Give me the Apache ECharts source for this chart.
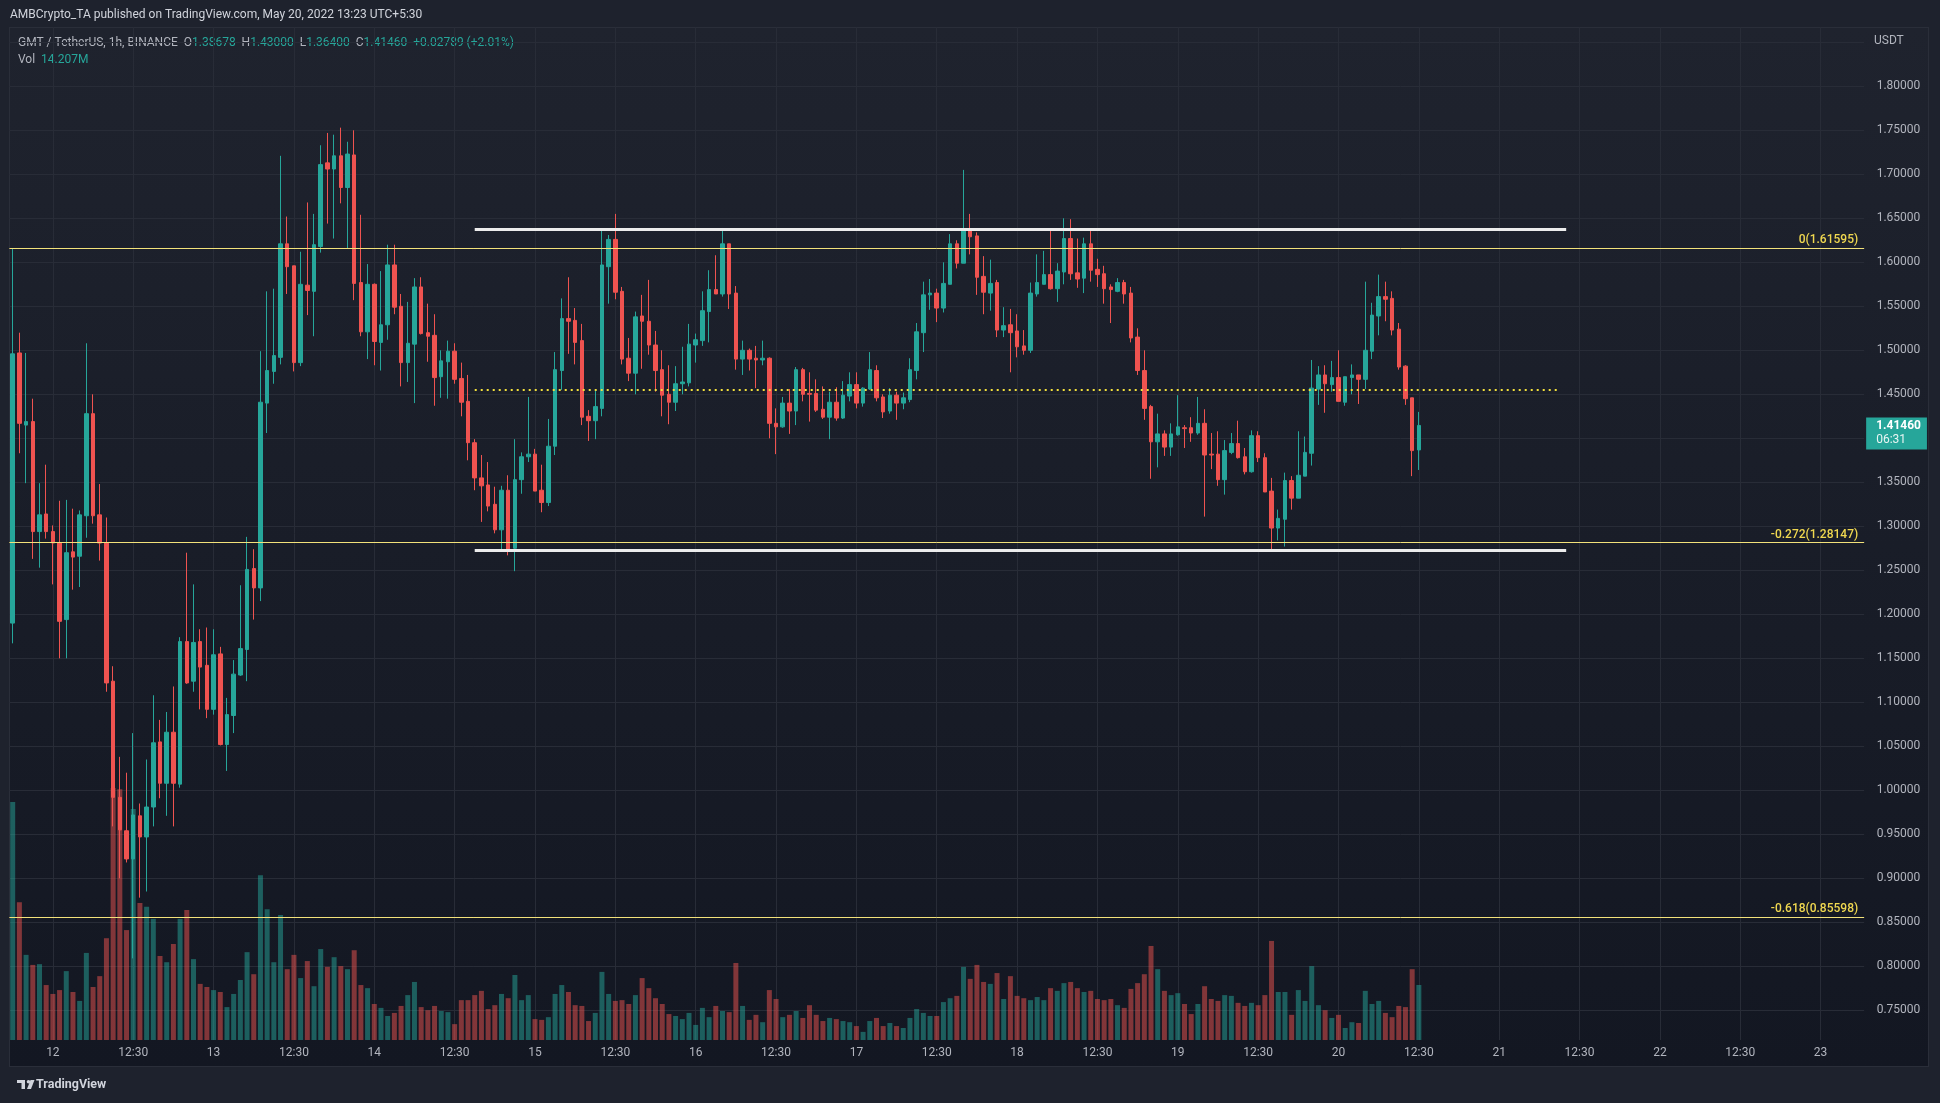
<!DOCTYPE html>
<html><head><meta charset="utf-8">
<script src="https://cdn.jsdelivr.net/npm/echarts@6/dist/echarts.min.js"></script>
<style>
html,body{margin:0;padding:0;background:#1e222d;width:1940px;height:1103px;overflow:hidden;}
#panel{position:absolute;left:9px;top:27px;width:1920px;height:1040px;background:linear-gradient(to bottom,#1f232e 0%,#131722 100%);border:1px solid #2a2e39;box-sizing:border-box;}
#c{position:absolute;left:0;top:0;width:1940px;height:1103px;}
</style></head><body><div id="panel"></div><div id="c"></div>
<script>
// ---- data (1h candles, GMT/USDT, Binance) ----
const OPEN=[1.190,1.497,1.415,1.419,1.294,1.314,1.294,1.281,1.194,1.271,
1.266,1.312,1.428,1.313,1.281,1.124,0.992,0.954,0.922,0.971,
0.947,0.981,1.055,1.008,1.066,1.007,1.169,1.124,1.169,1.142,
1.092,1.155,1.052,1.085,1.131,1.160,1.252,1.230,1.440,1.476,
1.492,1.621,1.596,1.486,1.574,1.567,1.618,1.713,1.706,1.721,
1.685,1.722,1.577,1.521,1.575,1.509,1.529,1.597,1.550,1.486,
1.507,1.572,1.520,1.517,1.470,1.487,1.499,1.468,1.442,1.395,
1.355,1.347,1.325,1.296,1.341,1.275,1.353,1.379,1.382,1.341,
1.327,1.391,1.477,1.536,1.534,1.511,1.425,1.420,1.434,1.595,
1.626,1.567,1.491,1.474,1.539,1.533,1.506,1.478,1.450,1.441,
1.462,1.463,1.506,1.511,1.544,1.569,1.564,1.621,1.565,1.490,
1.500,1.491,1.489,1.491,1.417,1.413,1.440,1.431,1.478,1.451,
1.451,1.433,1.424,1.441,1.423,1.448,1.461,1.440,1.456,1.477,
1.447,1.431,1.449,1.440,1.444,1.477,1.520,1.563,1.565,1.548,
1.575,1.621,1.599,1.638,1.630,1.584,1.565,1.577,1.523,1.529,
1.522,1.505,1.500,1.564,1.575,1.586,1.570,1.589,1.627,1.588,
1.582,1.621,1.592,1.587,1.572,1.567,1.577,1.565,1.515,1.477,
1.436,1.396,1.405,1.390,1.404,1.412,1.412,1.406,1.417,1.382,
1.382,1.353,1.384,1.394,1.379,1.362,1.403,1.378,1.340,1.298,
1.308,1.352,1.332,1.357,1.383,1.456,1.472,1.461,1.469,1.441,
1.469,1.472,1.467,1.499,1.539,1.561,1.559,1.524,1.482,1.446,
1.38678];
const HIGH=[1.616,1.520,1.497,1.445,1.349,1.370,1.301,1.329,1.330,1.320,
1.318,1.508,1.450,1.348,1.310,1.141,1.038,1.020,1.065,0.985,
1.035,1.108,1.080,1.089,1.118,1.174,1.270,1.234,1.183,1.185,
1.183,1.163,1.105,1.148,1.233,1.288,1.274,1.499,1.567,1.570,
1.721,1.652,1.596,1.612,1.668,1.655,1.733,1.747,1.745,1.753,
1.737,1.750,1.654,1.598,1.576,1.590,1.620,1.620,1.564,1.555,
1.582,1.583,1.553,1.541,1.500,1.511,1.508,1.486,1.472,1.399,
1.381,1.373,1.345,1.346,1.358,1.399,1.384,1.447,1.388,1.370,
1.422,1.498,1.559,1.583,1.548,1.530,1.432,1.455,1.637,1.631,
1.655,1.572,1.514,1.544,1.563,1.580,1.522,1.500,1.483,1.482,
1.504,1.530,1.519,1.567,1.591,1.608,1.639,1.621,1.573,1.511,
1.502,1.505,1.511,1.492,1.434,1.447,1.456,1.481,1.480,1.475,
1.467,1.459,1.453,1.458,1.465,1.475,1.475,1.458,1.498,1.483,
1.450,1.457,1.453,1.452,1.491,1.531,1.578,1.581,1.570,1.600,
1.632,1.625,1.705,1.655,1.634,1.607,1.603,1.580,1.549,1.547,
1.541,1.523,1.577,1.609,1.613,1.636,1.599,1.650,1.649,1.627,
1.628,1.637,1.604,1.596,1.575,1.582,1.580,1.572,1.525,1.500,
1.438,1.428,1.409,1.417,1.449,1.415,1.424,1.447,1.433,1.406,
1.408,1.398,1.406,1.420,1.389,1.409,1.408,1.383,1.355,1.319,
1.361,1.357,1.408,1.402,1.489,1.482,1.483,1.488,1.500,1.470,
1.484,1.472,1.578,1.554,1.586,1.578,1.567,1.531,1.483,1.446,
1.43000];
const LOW=[1.167,1.383,1.349,1.263,1.253,1.286,1.234,1.150,1.150,1.228,
1.231,1.287,1.303,1.261,1.112,0.959,0.900,0.918,0.809,0.878,
0.885,0.959,0.991,0.971,0.959,1.003,1.121,1.112,1.092,1.082,
1.086,1.051,1.022,1.065,1.130,1.124,1.194,1.215,1.406,1.462,
1.484,1.564,1.476,1.482,1.540,1.516,1.611,1.644,1.627,1.667,
1.616,1.557,1.516,1.490,1.483,1.477,1.512,1.541,1.459,1.464,
1.440,1.518,1.487,1.437,1.446,1.445,1.462,1.425,1.375,1.341,
1.305,1.317,1.292,1.273,1.267,1.249,1.337,1.373,1.340,1.316,
1.323,1.381,1.455,1.496,1.484,1.415,1.397,1.399,1.425,1.553,
1.558,1.484,1.465,1.450,1.479,1.495,1.453,1.425,1.416,1.431,
1.450,1.459,1.486,1.505,1.509,1.564,1.561,1.547,1.478,1.472,
1.477,1.457,1.483,1.400,1.382,1.412,1.405,1.415,1.442,1.419,
1.430,1.422,1.399,1.420,1.422,1.442,1.434,1.436,1.455,1.442,
1.423,1.428,1.421,1.433,1.441,1.467,1.498,1.546,1.532,1.543,
1.575,1.593,1.599,1.609,1.563,1.541,1.545,1.515,1.515,1.475,
1.492,1.495,1.497,1.561,1.575,1.569,1.555,1.575,1.580,1.571,
1.565,1.578,1.572,1.553,1.531,1.566,1.553,1.509,1.472,1.421,
1.354,1.367,1.380,1.380,1.403,1.389,1.396,1.404,1.311,1.365,
1.346,1.336,1.382,1.377,1.359,1.361,1.373,1.339,1.273,1.284,
1.277,1.319,1.332,1.357,1.369,1.438,1.429,1.453,1.442,1.437,
1.450,1.439,1.456,1.490,1.517,1.533,1.517,1.478,1.438,1.357,
1.36400];
const CLOSE=[1.496,1.417,1.419,1.294,1.313,1.294,1.281,1.192,1.270,1.265,
1.313,1.428,1.312,1.281,1.122,0.992,0.955,0.922,0.972,0.947,
0.981,1.054,1.008,1.066,1.008,1.169,1.122,1.168,1.140,1.092,
1.154,1.052,1.086,1.132,1.161,1.251,1.230,1.441,1.477,1.494,
1.621,1.595,1.486,1.575,1.568,1.620,1.711,1.706,1.721,1.685,
1.723,1.576,1.521,1.575,1.510,1.529,1.597,1.549,1.486,1.508,
1.572,1.519,1.516,1.469,1.488,1.499,1.467,1.441,1.395,1.355,
1.346,1.323,1.296,1.341,1.273,1.353,1.379,1.382,1.340,1.327,
1.391,1.478,1.536,1.533,1.509,1.424,1.420,1.436,1.597,1.626,
1.566,1.490,1.474,1.538,1.533,1.506,1.477,1.449,1.441,1.462,
1.464,1.507,1.512,1.545,1.569,1.564,1.621,1.564,1.490,1.500,
1.490,1.489,1.491,1.417,1.413,1.440,1.431,1.478,1.450,1.450,
1.432,1.424,1.441,1.423,1.449,1.461,1.440,1.457,1.478,1.446,
1.430,1.449,1.440,1.446,1.478,1.521,1.563,1.565,1.548,1.576,
1.621,1.599,1.638,1.629,1.583,1.566,1.576,1.523,1.528,1.520,
1.504,1.500,1.565,1.577,1.586,1.570,1.590,1.627,1.587,1.581,
1.621,1.591,1.586,1.570,1.569,1.577,1.564,1.514,1.477,1.434,
1.396,1.405,1.390,1.405,1.413,1.411,1.406,1.417,1.381,1.381,
1.353,1.386,1.394,1.378,1.362,1.403,1.378,1.339,1.298,1.309,
1.352,1.332,1.358,1.384,1.457,1.472,1.462,1.469,1.442,1.470,
1.472,1.467,1.500,1.540,1.561,1.558,1.523,1.481,1.445,1.386,
1.41460];
// volume in millions of GMT
const VOLUME=[61.5,35.6,22.0,19.4,19.6,14.2,11.9,12.9,17.8,12.4,
10.1,22.5,13.7,16.5,26.3,65.1,64.8,28.4,59.7,35.4,
34.4,31.3,21.7,20.1,24.8,31.3,33.6,20.9,14.5,13.7,
12.9,12.4,8.5,11.9,15.5,22.7,17.0,42.6,33.8,20.1,
32.3,18.3,22.0,16.0,20.4,13.9,23.5,18.9,21.4,19.1,
18.3,23.2,14.2,13.4,9.3,8.3,6.2,7.0,8.8,11.6,
15.0,8.5,7.7,8.8,7.5,7.2,4.1,10.3,10.3,11.6,
12.7,8.0,9.0,11.9,10.8,16.8,10.3,11.6,5.4,5.2,
5.9,11.9,14.2,12.4,9.0,8.8,4.9,7.0,17.6,11.9,
10.1,10.3,9.3,11.6,16.0,13.4,10.8,9.3,6.7,6.2,
5.4,7.0,3.9,8.3,5.9,8.8,7.5,7.2,19.9,8.8,
5.2,6.5,4.6,12.9,10.6,5.9,6.5,7.5,5.7,9.0,
6.5,4.9,5.7,5.4,4.9,4.6,3.6,2.1,4.9,5.7,
3.6,4.4,3.6,3.1,5.7,8.0,7.0,6.2,6.2,9.8,
10.8,11.4,18.9,15.8,19.4,15.0,14.5,17.3,10.6,16.5,
11.4,10.8,10.3,11.1,10.3,13.4,12.7,14.7,15.0,13.4,
12.4,12.7,10.6,10.3,10.6,9.0,8.3,13.2,14.7,17.0,
24.3,18.3,12.7,11.6,12.1,9.3,6.7,9.3,13.9,10.6,
10.1,11.6,11.4,9.6,8.8,9.6,9.0,11.6,25.6,12.4,
12.4,6.5,12.9,10.1,19.1,9.0,7.7,5.7,6.5,3.1,
4.6,4.4,12.7,9.3,10.1,7.0,5.9,8.8,8.5,18.3,
14.207];
const LAST_PRICE=1.41460, LAST_PRICE_TEXT='1.41460', COUNTDOWN='06:31';
const FIB_VALUES=[1.61595,1.28147,0.85598];
const FIB_LABELS=['0(1.61595)','-0.272(1.28147)','-0.618(0.85598)'];
const RANGE_TOP=1.6378, RANGE_BOTTOM=1.2727, RANGE_MID=1.4552;
const RANGE_FROM=69, RANGE_TO=232, MID_TO=231;   // candle indices of the drawn lines
const PRICE_MIN=0.70, PRICE_MAX=1.85, PRICE_STEP=0.05;
const VOL_MAX=100;

// time categories: 1h candles from 11 May 18:30 (UTC+5:30)
const N_CATS=277;
const START=Date.UTC(2022,4,11,18,30);
const categories=[], tickLabels=[];
for(let i=0;i<N_CATS;i++){
  const d=new Date(START+i*3600000);
  const dd=d.getUTCDate(), hh=d.getUTCHours();
  categories.push('2022-05-'+String(dd).padStart(2,'0')+' '+String(hh).padStart(2,'0')+':30');
  tickLabels.push(hh===0?String(dd):(hh===12?'12:30':''));
}

const UP='#26a69a', DOWN='#ef5350';
const candleData=OPEN.map((o,i)=>[o,CLOSE[i],LOW[i],HIGH[i]]);
const volData=VOLUME.map((v,i)=>({value:v,itemStyle:{color:CLOSE[i]>=OPEN[i]?'rgba(38,166,154,0.5)':'rgba(239,83,80,0.5)'}}));

const FONT='Roboto, "Liberation Sans", sans-serif';
const FIB_COLOR='#f3e27a', FIB_TEXT='#f0d850';

const gl=9.35, gr=1940-(9.35+277*6.696);
const markData=[];
FIB_VALUES.forEach((v,k)=>{
  markData.push({yAxis:v,lineStyle:{color:FIB_COLOR,width:1,type:'solid'},
    label:{show:true,position:'insideEndTop',formatter:FIB_LABELS[k],color:FIB_TEXT,fontSize:12,fontWeight:500,fontFamily:FONT,distance:[6,2]}});
});
markData.push([{coord:[categories[RANGE_FROM],RANGE_TOP],lineStyle:{color:'#ececec',width:3,type:'solid'},label:{show:false}},{coord:[categories[RANGE_TO],RANGE_TOP]}]);
markData.push([{coord:[categories[RANGE_FROM],RANGE_BOTTOM],lineStyle:{color:'#ececec',width:3,type:'solid'},label:{show:false}},{coord:[categories[RANGE_TO],RANGE_BOTTOM]}]);
markData.push([{coord:[categories[RANGE_FROM],RANGE_MID],lineStyle:{color:'#f2e03c',width:2,type:[2,4]},label:{show:false}},{coord:[categories[MID_TO],RANGE_MID]}]);
markData.push({yAxis:LAST_PRICE,lineStyle:{color:'rgba(0,0,0,0)',width:1,type:'solid'},
  label:{show:true,position:'end',distance:2,offset:[0,8],formatter:'{p|'+LAST_PRICE_TEXT+'}\n{t|'+COUNTDOWN+'}',
    backgroundColor:UP,padding:[2,6,2,10],color:'#ffffff',
    rich:{p:{color:'#ffffff',fontSize:12,fontWeight:'bold',fontFamily:FONT,lineHeight:14},
          t:{color:'#e8f5f3',fontSize:12,fontFamily:FONT,lineHeight:14}}}});

const chart=echarts.init(document.getElementById('c'),null,{renderer:'canvas'});
chart.setOption({
  backgroundColor:'transparent',
  animation:false,
  textStyle:{fontFamily:FONT},
  grid:[
    {left:gl,right:gr,top:42.3,bottom:1103-1054.3,outerBoundsMode:'none',containLabel:false},
    {left:gl,right:gr,top:653,bottom:63,outerBoundsMode:'none',containLabel:false}
  ],
  xAxis:[
    {type:'category',gridIndex:0,data:categories,boundaryGap:true,axisLine:{show:false},axisTick:{show:false},axisLabel:{show:false},splitLine:{show:false}},
    {type:'category',gridIndex:1,data:categories,boundaryGap:true,axisLine:{show:false},
     axisTick:{show:true,alignWithLabel:true,inside:true,length:1013,interval:(i)=>tickLabels[i]!=='',lineStyle:{color:'#282c37',width:1}},
     axisLabel:{show:true,interval:(i)=>tickLabels[i]!=='',formatter:(v,i)=>tickLabels[i],color:'#b2b5be',fontSize:12,fontFamily:FONT,margin:7},
     splitLine:{show:false}}
  ],
  yAxis:[
    {type:'value',gridIndex:0,position:'right',min:PRICE_MIN,max:PRICE_MAX,interval:PRICE_STEP,
     axisLine:{show:false},axisTick:{show:false},
     axisLabel:{formatter:(v)=>v.toFixed(5),color:'#b2b5be',fontSize:12,fontFamily:FONT,margin:12.5,showMinLabel:false,showMaxLabel:false},
     splitLine:{show:true,showMinLine:false,lineStyle:{color:'#282c37',width:1}}},
    {type:'value',gridIndex:1,min:0,max:VOL_MAX,show:false,splitLine:{show:false}}
  ],
  series:[
    {type:'bar',name:'Vol',xAxisIndex:1,yAxisIndex:1,data:volData,barWidth:5,z:1,silent:true},
    {type:'candlestick',name:'GMT',xAxisIndex:0,yAxisIndex:0,data:candleData,barWidth:4,z:3,
     itemStyle:{color:UP,color0:DOWN,borderColor:UP,borderColor0:DOWN,borderWidth:1},
     markLine:{silent:true,precision:5,symbol:['none','none'],animation:false,data:markData}}
  ],
  graphic:[
    {type:'text',x:10,y:15,style:{text:'AMBCrypto_TA published on TradingView.com, May 20, 2022 13:23 UTC+5:30',fill:'#d1d4dc',fontSize:12,fontFamily:FONT,verticalAlign:'middle'}},
    {type:'text',x:18,y:42.7,style:{text:'{n|GMT / TetherUS, 1h, BINANCE}  {l|O}{v|1.38678}  {l|H}{v|1.43000}  {l|L}{v|1.36400}  {l|C}{v|1.41460}  {v|+0.02789 (+2.01%)}',
      verticalAlign:'middle',fontSize:12,fontFamily:FONT,fill:'#b2b5be',
      rich:{n:{fill:'#b2b5be',fontSize:12,fontFamily:FONT},l:{fill:'#b2b5be',fontSize:12,fontFamily:FONT},v:{fill:UP,fontSize:12,fontFamily:FONT}}}},
    {type:'text',x:18,y:60,style:{text:'{l|Vol}  {v|14.207M}',verticalAlign:'middle',fontSize:12,fontFamily:FONT,
      rich:{l:{fill:'#b2b5be',fontSize:12,fontFamily:FONT},v:{fill:UP,fontSize:12,fontFamily:FONT}}}},
    {type:'text',x:1874,y:40.7,style:{text:'USDT',fill:'#b2b5be',fontSize:12,fontFamily:FONT,verticalAlign:'middle'}},
    {type:'rect',shape:{x:17,y:1080,width:8,height:3},style:{fill:'#d1d4dc'}},
    {type:'rect',shape:{x:21.5,y:1080,width:3.5,height:9},style:{fill:'#d1d4dc'}},
    {type:'circle',shape:{cx:28.5,cy:1081.8,r:1.8},style:{fill:'#d1d4dc'}},
    {type:'polygon',shape:{points:[[30.5,1080],[34.5,1080],[31,1089],[27,1089]]},style:{fill:'#d1d4dc'}},
    {type:'text',x:36,y:1085,style:{text:'TradingView',fill:'#d1d4dc',fontSize:12.5,fontWeight:'bold',fontFamily:FONT,verticalAlign:'middle'}}
  ]
});
</script></body></html>
